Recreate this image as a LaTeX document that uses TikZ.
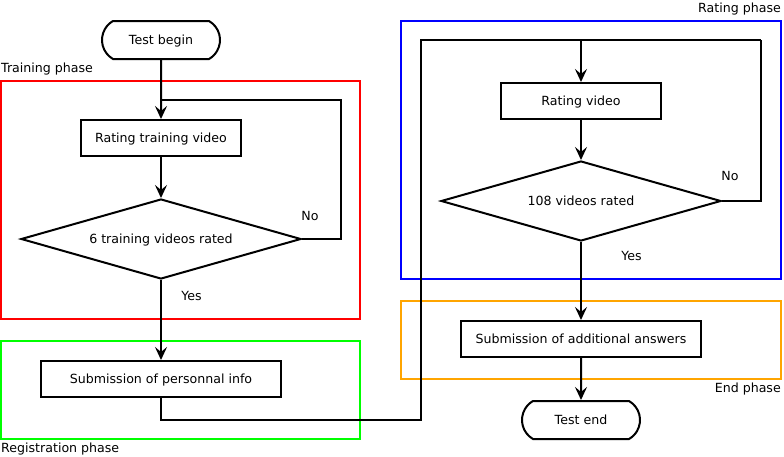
\documentclass[tikz,border=0pt]{standalone}
\usepackage{fontspec}
\setmainfont{DejaVu Sans}
\usetikzlibrary{arrows.meta,shapes.geometric,shapes.misc}
\definecolor{phaseorange}{HTML}{FFA500}
\definecolor{phasegreen}{HTML}{00FF00}
\definecolor{phaseblue}{HTML}{0000FF}
\definecolor{phasered}{HTML}{FF0000}
\tikzset{
  txt/.style={font=\fontsize{12.6}{14}\selectfont, text depth=0pt},
  flow/.style={line width=2pt, line join=miter},
  arr/.style={flow, -{Stealth[length=13pt,width=12pt,inset=5pt]}},
  procbox/.style={draw, line width=2pt, rectangle, minimum width=160pt, minimum height=36pt, inner sep=0pt, txt},
  termbox/.style={draw, line width=2pt, rounded rectangle, rounded rectangle arc length=120, minimum width=118pt, minimum height=38pt, inner sep=0pt, txt},
  decbox/.style={draw, line width=2pt, diamond, shape aspect=3.5, minimum width=280pt, minimum height=80pt, inner sep=0pt, txt},
  lbl/.style={inner sep=0pt, txt},
  phase/.style={line width=2pt},
}
\begin{document}
\begin{tikzpicture}[x=1pt,y=-1pt]
\useasboundingbox[fill=white] (0,0) rectangle (784,456);
% phase frames
\draw[phase, phasered] (1,81) rectangle (360,319);
\draw[phase, phasegreen] (1,341) rectangle (360,439);
\draw[phase, phaseblue] (401,21) rectangle (781,279);
\draw[phase, phaseorange] (401,301) rectangle (781,379);
\node[lbl, anchor=west] (lt) at (1,67.5) {Training phase};
\node[lbl, anchor=west] (lg) at (1,448) {Registration phase};
\node[lbl, anchor=east] (lr) at (781,7.5) {Rating phase};
\node[lbl, anchor=east] (le) at (781,388) {End phase};
% nodes
\node[termbox] (begin) at (161,40) {Test begin};
\node[procbox] (rtv) at (161,138) {Rating training video};
\node[decbox] (d1) at (161,239) {6 training videos rated};
\node[procbox, minimum width=240pt] (info) at (161,379) {Submission of personnal info};
\node[procbox] (rv) at (581,101) {Rating video};
\node[decbox] (d2) at (581,201) {108 videos rated};
\node[procbox, minimum width=240pt] (add) at (581,339) {Submission of additional answers};
\node[termbox] (tend) at (581,420) {Test end};
% labels
\node[lbl] (no1) at (310,216) {No};
\node[lbl] (yes1) at (191.5,295.5) {Yes};
\node[lbl] (no2) at (730,175.5) {No};
\node[lbl] (yes2) at (631.5,255.5) {Yes};
% helper coordinates
\coordinate (c1) at (341,100);
\coordinate (c2) at (161,100);
\coordinate (c3) at (421,420);
\coordinate (c4) at (421,40);
\coordinate (c5) at (761,40);
\coordinate (c6) at (581,40);
% connectors
\draw[arr] (begin) -- (rtv);
\draw[arr] (rtv) -- (d1);
\draw[flow] (d1.east) -| (c1) -- (c2);
\draw[arr] (d1.south) -- (info.north);
\draw[flow] (info.south) |- (c3) -- (c4) -- (c5);
\draw[arr] (c6) -- (rv.north);
\draw[arr] (rv) -- (d2);
\draw[flow] (d2.east) -| (c5);
\draw[arr] (d2.south) -- (add.north);
\draw[arr] (add) -- (tend);
\end{tikzpicture}
\end{document}
